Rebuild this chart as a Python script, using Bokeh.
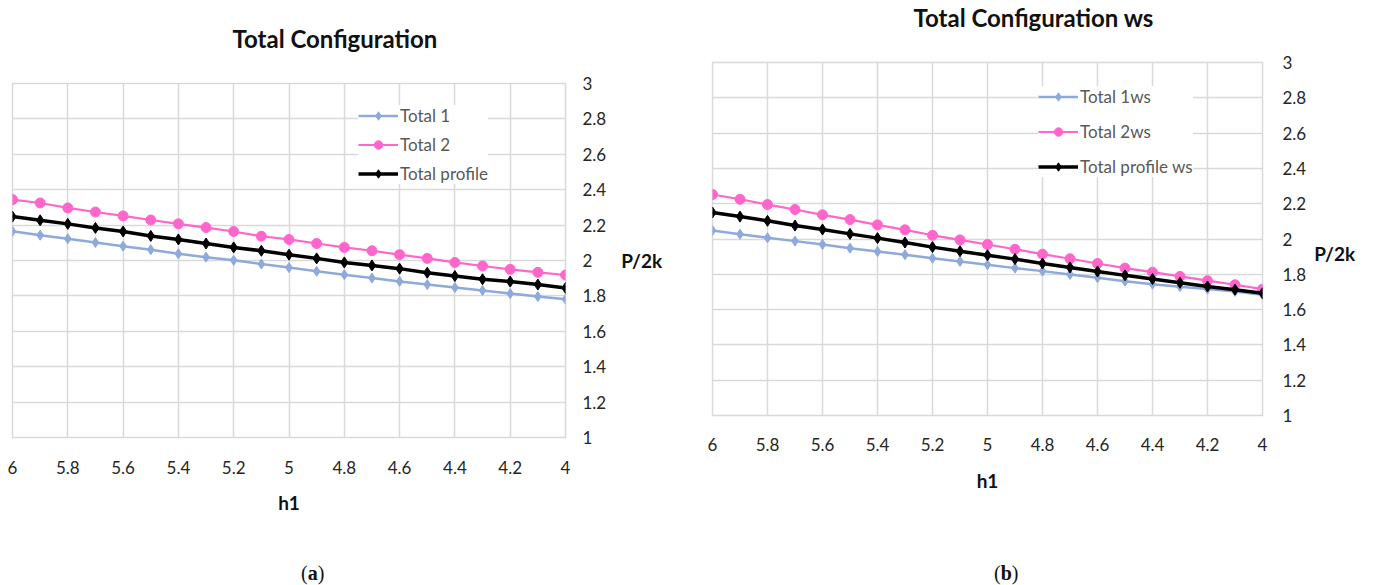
from bokeh.plotting import figure
from bokeh.models import Range1d, Legend, LegendItem, FixedTicker, Title, Div
from bokeh.layouts import row, column
from bokeh.embed import file_html
from bokeh.resources import INLINE

# ---------------- data ----------------
h1 = [6.0, 5.9, 5.8, 5.7, 5.6, 5.5, 5.4, 5.3, 5.2, 5.1, 5.0,
      4.9, 4.8, 4.7, 4.6, 4.5, 4.4, 4.3, 4.2, 4.1, 4.0]

total_1 = [2.165, 2.143, 2.123, 2.102, 2.081, 2.061, 2.038, 2.019, 2.001, 1.980, 1.960,
           1.939, 1.920, 1.901, 1.882, 1.864, 1.847, 1.830, 1.813, 1.796, 1.781]
total_2 = [2.344, 2.325, 2.297, 2.274, 2.252, 2.229, 2.207, 2.186, 2.164, 2.137, 2.119,
           2.096, 2.074, 2.055, 2.033, 2.012, 1.989, 1.969, 1.950, 1.933, 1.918]
total_profile = [2.248, 2.227, 2.207, 2.184, 2.164, 2.139, 2.119, 2.096, 2.074, 2.055, 2.033,
                 2.012, 1.989, 1.972, 1.954, 1.931, 1.912, 1.894, 1.881, 1.864, 1.845]

total_1ws = [2.048, 2.027, 2.007, 1.988, 1.969, 1.948, 1.929, 1.911, 1.891, 1.873, 1.854,
             1.835, 1.818, 1.799, 1.781, 1.761, 1.744, 1.730, 1.716, 1.703, 1.684]
total_2ws = [2.252, 2.225, 2.195, 2.167, 2.137, 2.110, 2.080, 2.052, 2.021, 1.995, 1.969,
             1.942, 1.914, 1.888, 1.861, 1.835, 1.812, 1.788, 1.764, 1.741, 1.716]
total_profile_ws = [2.150, 2.127, 2.103, 2.076, 2.054, 2.029, 2.005, 1.980, 1.954, 1.931, 1.908,
                    1.886, 1.861, 1.839, 1.816, 1.794, 1.773, 1.752, 1.731, 1.713, 1.693]

names_a = ["Total 1", "Total 2", "Total profile"]
names_b = ["Total 1ws", "Total 2ws", "Total profile ws"]

x_ticks = [6.0, 5.8, 5.6, 5.4, 5.2, 5.0, 4.8, 4.6, 4.4, 4.2, 4.0]
x_tick_labels = ["6", "5.8", "5.6", "5.4", "5.2", "5", "4.8", "4.6", "4.4", "4.2", "4"]
y_ticks = [1.0, 1.2, 1.4, 1.6, 1.8, 2.0, 2.2, 2.4, 2.6, 2.8, 3.0]
y_tick_labels = ["1", "1.2", "1.4", "1.6", "1.8", "2", "2.2", "2.4", "2.6", "2.8", "3"]

# ---------------- style ----------------
FONT = "Lato"
GRID = "#d9d9d9"
COLORS = ["#8EA9DB", "#FF66CC", "#000000"]
MARKERS = ["diamond", "circle", "diamond"]
MSIZES = [10, 10, 11]
LWIDTHS = [2.5, 2.2, 3.5]
CAP_H = 30  # height of the caption strip under each chart


def make_panel(title, names, series, geo):
    W, H = geo["w"], geo["h"] - CAP_H
    fl, fr, ft, fb = geo["frame"]  # frame edges in figure pixels
    p = figure(width=W, height=H, output_backend="svg", toolbar_location=None,
               x_range=Range1d(6, 4), y_range=Range1d(1, 3),
               y_axis_location="right",
               min_border_left=fl, min_border_right=W - fr,
               min_border_top=ft, min_border_bottom=H - fb,
               background_fill_color="white", border_fill_color="white")
    p.outline_line_color = GRID
    p.outline_line_width = 1.5

    p.xaxis.ticker = FixedTicker(ticks=x_ticks)
    p.yaxis.ticker = FixedTicker(ticks=y_ticks)
    p.xaxis.major_label_overrides = dict(zip(x_ticks, x_tick_labels))
    p.yaxis.major_label_overrides = dict(zip(y_ticks, y_tick_labels))
    for ax, standoff in ((p.xaxis, geo["xstand"]), (p.yaxis, geo["ystand"])):
        ax.axis_line_color = None
        ax.major_tick_line_color = None
        ax.minor_tick_line_color = None
        ax.major_tick_out = 0
        ax.major_tick_in = 0
        ax.major_label_standoff = standoff
        ax.major_label_text_font = FONT
        ax.major_label_text_font_size = "17px"
        ax.major_label_text_color = "#262626"
        ax.axis_label_text_font = FONT
        ax.axis_label_text_font_size = "19px"
        ax.axis_label_text_font_style = "bold"
        ax.axis_label_text_color = "#111111"
    p.xaxis.axis_label = "h1"
    p.xaxis.axis_label_standoff = geo["xlab_stand"]
    p.yaxis.axis_label = geo["ylab_text"]
    p.yaxis.axis_label_orientation = "horizontal"
    p.yaxis.axis_label_standoff = geo["ylab_stand"]
    p.yaxis.axis_label_text_line_height = geo["ylab_lh"]

    p.xgrid.grid_line_color = GRID
    p.ygrid.grid_line_color = GRID
    p.xgrid.grid_line_width = 1.5
    p.ygrid.grid_line_width = 1.5

    items = []
    for name, ys, c, m, ms, lw in zip(names, series, COLORS, MARKERS, MSIZES, LWIDTHS):
        r1 = p.line(h1, ys, line_color=c, line_width=lw)
        r2 = p.scatter(h1, ys, marker=m, size=ms, fill_color=c, line_color=c)
        items.append(LegendItem(label=name, renderers=[r1, r2]))

    leg = Legend(items=items, location=geo["legend_loc"], orientation="vertical",
                 background_fill_color="white", background_fill_alpha=1.0,
                 border_line_color=None, padding=8, margin=0,
                 glyph_width=40, glyph_height=21, label_height=21,
                 spacing=geo["leg_spacing"], label_standoff=2,
                 label_text_font=FONT, label_text_font_size="17px",
                 label_text_color="#595959")
    p.add_layout(leg)

    # title above (a trailing empty line lifts the visible line away from the frame)
    p.title = Title(text=title + "\n", align="left", offset=geo["title_off"],
                    standoff=0, text_font=FONT, text_line_height=geo["title_lh"],
                    text_font_size="24px", text_font_style="bold",
                    text_color="#111111")

    cap_letter, cap_left = geo["caption"]
    cap = Div(width=W, height=CAP_H, margin=0,
              text=('<div style="position:relative;width:%dpx;height:%dpx;">'
                    '<span style="position:absolute;left:%dpx;top:6px;'
                    'font-family:\'Liberation Serif\';font-size:20px;line-height:24px;'
                    'color:#111;white-space:nowrap;">(<b>%s</b>)</span></div>')
                   % (W, CAP_H, cap_left, cap_letter))
    return column(p, cap)


geo_a = dict(w=698, h=585,
             frame=(12, 565, 83, 437),
             xstand=23, ystand=17, xlab_stand=14,
             ylab_text="P/2k", ylab_stand=12, ylab_lh=1.2,
             legend_loc=(346, 253), leg_spacing=8,
             title_off=220, title_lh=1.04,
             caption=("a", 301))
geo_b = dict(w=675, h=585,
             frame=(14, 564, 62, 415),
             xstand=22, ystand=20, xlab_stand=15,
             ylab_text="\nP/2k", ylab_stand=5, ylab_lh=1.25,
             legend_loc=(326, 238), leg_spacing=14,
             title_off=201, title_lh=1.05,
             caption=("b", 296))

pa = make_panel("Total Configuration", names_a, [total_1, total_2, total_profile], geo_a)
pb = make_panel("Total Configuration ws", names_b, [total_1ws, total_2ws, total_profile_ws], geo_b)

layout = row(pa, pb)
open("out.html", "w").write(file_html(layout, INLINE))
